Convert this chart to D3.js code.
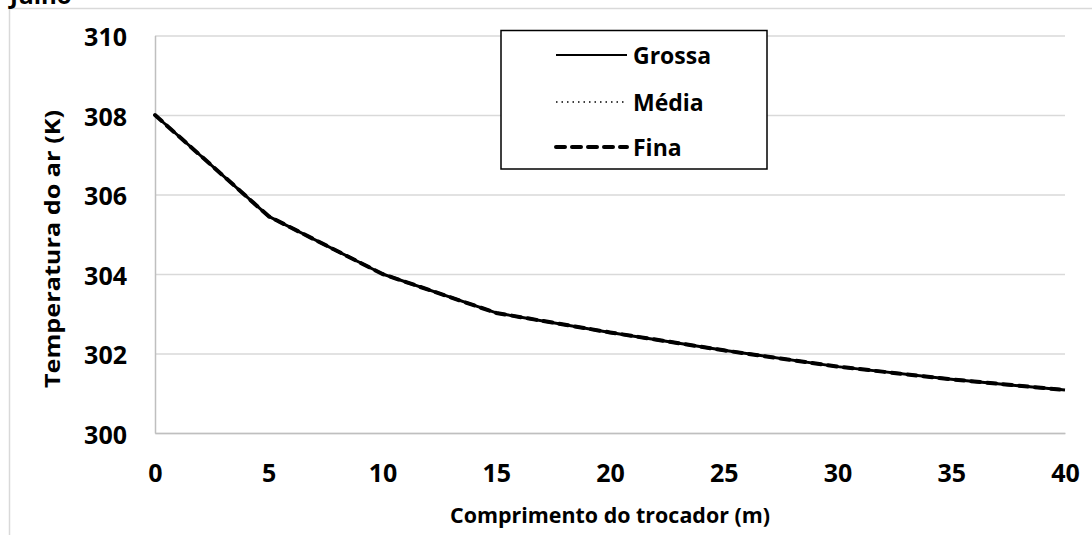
<!DOCTYPE html>
<html>
<head>
<meta charset="utf-8">
<script src="https://cdn.jsdelivr.net/npm/d3@7"></script>
<style>
    body { margin: 0; background: #fff; }
    .tick text { font-family: "Open Sans", sans-serif; font-weight: 700; font-size: 25px; fill: #000; }
    .axis-title { font-family: "Open Sans", sans-serif; font-weight: 700; font-size: 22px; fill: #000; }
    .legend-text { font-family: "Open Sans", sans-serif; font-weight: 700; font-size: 23px; fill: #000; }
</style>
</head>
<body>
<div id="chart"></div>
<script>
// data
let comprimento = [0, 5, 10, 15, 20, 25, 30, 35, 40];
let grossa = [308.0, 305.45, 304.0, 303.02, 302.53, 302.08, 301.67, 301.35, 301.08];
let media  = [308.0, 305.45, 304.0, 303.02, 302.53, 302.08, 301.67, 301.35, 301.08];
let fina   = [308.0, 305.45, 304.0, 303.02, 302.53, 302.08, 301.67, 301.35, 301.08];
let xTicks = [0, 5, 10, 15, 20, 25, 30, 35, 40];
let yTicks = [300, 302, 304, 306, 308, 310];
let seriesNames = ["Grossa", "Média", "Fina"];

let W = 1092, H = 535;
let plot = {left: 155, right: 1065, top: 35.5, bottom: 433};

let svg = d3.select("#chart").append("svg")
    .attr("width", W)
    .attr("height", H);

// outer chart border (partly cut off in the picture)
svg.append("path")
    .attr("d", `M9.5,${H + 5} V8.5 H${W + 5}`)
    .attr("fill", "none")
    .attr("stroke", "#d9d9d9")
    .attr("stroke-width", 1.5);

// cut off chart title at top left
svg.append("text")
    .attr("class", "axis-title")
    .attr("x", 10)
    .attr("y", 4)
    .style("font-size", "24px")
    .text("Julho");

let x = d3.scaleLinear().domain([0, 40]).range([plot.left, plot.right]);
let y = d3.scaleLinear().domain([300, 310]).range([plot.bottom, plot.top]);

// gridlines
svg.append("g")
    .attr("class", "grid")
    .attr("transform", `translate(${plot.left},0)`)
    .call(d3.axisLeft(y).tickValues(yTicks).tickSize(-(plot.right - plot.left)).tickFormat(""))
    .call(g => g.select(".domain").remove())
    .call(g => g.selectAll("line").attr("stroke", "#d9d9d9").attr("stroke-width", 1.5));

// y axis
svg.append("g")
    .attr("transform", `translate(${plot.left},0)`)
    .call(d3.axisLeft(y).tickValues(yTicks).tickSize(0).tickPadding(28))
    .call(g => g.select(".domain").attr("stroke", "#bfbfbf").attr("stroke-width", 1.5))
    .call(g => g.selectAll("text").attr("dy", "0.4em"));

// x axis
svg.append("g")
    .attr("transform", `translate(0,${plot.bottom})`)
    .call(d3.axisBottom(x).tickValues(xTicks).tickSize(0).tickPadding(31))
    .call(g => g.select(".domain").attr("stroke", "#bfbfbf").attr("stroke-width", 1.5));

// axis titles
svg.append("text")
    .attr("class", "axis-title")
    .attr("text-anchor", "middle")
    .attr("x", 610)
    .attr("y", 523)
    .attr("textLength", 320)
    .attr("lengthAdjust", "spacingAndGlyphs")
    .text("Comprimento do trocador (m)");

svg.append("text")
    .attr("class", "axis-title")
    .attr("text-anchor", "middle")
    .attr("transform", "translate(60,249) rotate(-90)")
    .attr("textLength", 278)
    .attr("lengthAdjust", "spacingAndGlyphs")
    .text("Temperatura do ar (K)");

// lines
let styles = [
    {dash: null, width: 3, cap: "butt"},
    {dash: "1.5,4", width: 1.5, cap: "butt"},
    {dash: "9,7", width: 4, cap: "round"}
];
let allSeries = [grossa, media, fina];

let line = d3.line()
    .x((d, i) => x(comprimento[i]))
    .y(d => y(d));

allSeries.forEach((s, k) => {
    svg.append("path")
        .datum(s)
        .attr("d", line)
        .attr("fill", "none")
        .attr("stroke", "#000")
        .attr("stroke-width", styles[k].width)
        .attr("stroke-dasharray", styles[k].dash)
        .attr("stroke-linecap", styles[k].cap)
        .attr("stroke-linejoin", "round");
});

// legend
let legend = svg.append("g");
legend.append("rect")
    .attr("x", 501)
    .attr("y", 30.5)
    .attr("width", 266)
    .attr("height", 138.5)
    .attr("fill", "#fff")
    .attr("stroke", "#000")
    .attr("stroke-width", 1.5);

let rowY = [55, 102, 147];
seriesNames.forEach((name, k) => {
    legend.append("line")
        .attr("x1", 556).attr("x2", 627)
        .attr("y1", rowY[k]).attr("y2", rowY[k])
        .attr("stroke", "#000")
        .attr("stroke-width", k === 0 ? 2 : styles[k].width)
        .attr("stroke-dasharray", styles[k].dash)
        .attr("stroke-linecap", styles[k].cap);
    legend.append("text")
        .attr("class", "legend-text")
        .attr("x", 633)
        .attr("y", rowY[k] + 8.5)
        .text(name);
});
</script>
</body>
</html>
